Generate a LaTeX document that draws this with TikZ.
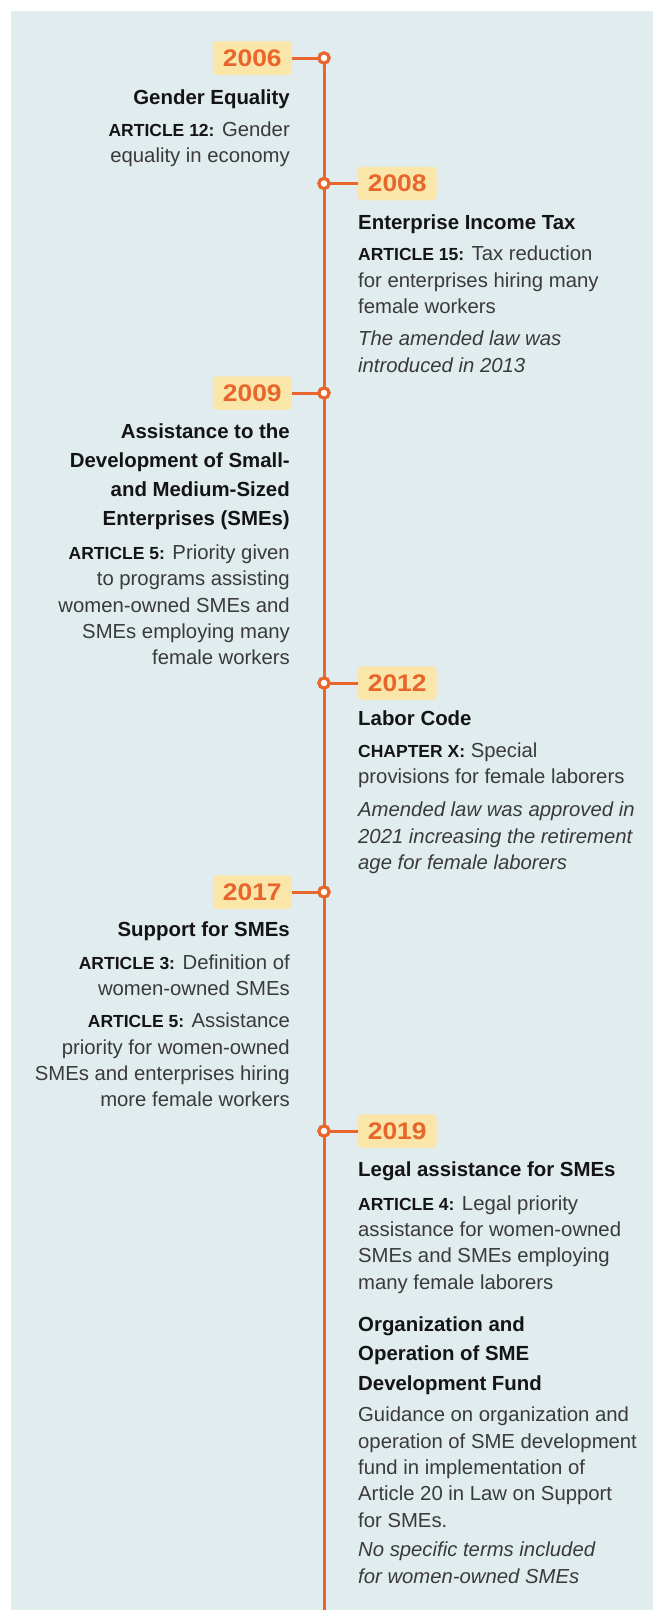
\documentclass[tikz,border=0pt]{standalone}
\usepackage{fontspec}
\setmainfont{Liberation Sans}
\definecolor{panel}{HTML}{E1ECEE}
\definecolor{tl}{HTML}{E8652B}
\definecolor{yearbg}{HTML}{FAE6A8}
\definecolor{bodytxt}{HTML}{3A3A3A}
\definecolor{titletxt}{HTML}{141414}
\newcommand\lbl[1]{{\fontsize{17.5}{26.4}\selectfont\bfseries\color{titletxt}#1}}
\newcommand\lpar[1]{\parbox[t]{280pt}{\raggedleft\leavevmode #1}}
\newcommand\rpar[1]{\parbox[t]{290pt}{\raggedright\leavevmode #1}}
\newcommand\yr[1]{\scalebox{1.1}[1]{#1}}
\tikzset{
  yearbox/.style={fill=yearbg, rounded corners=4pt, minimum width=79pt, minimum height=33.5pt, inner sep=0pt, text=tl, font=\bfseries\fontsize{24}{24}\selectfont},
  dot/.style={circle, draw=tl, fill=white, line width=3.2pt, minimum size=10.3pt, inner sep=0pt},
  link/.style={draw=tl, line width=3pt},
  ttl/.style={inner sep=0pt, text=titletxt, font=\bfseries\fontsize{20.4}{29.2}\selectfont},
  bod/.style={inner sep=0pt, text=bodytxt, font=\fontsize{20.3}{26.4}\selectfont},
}
\begin{document}
\begin{tikzpicture}[x=1pt,y=-1pt]
\useasboundingbox (0,0) rectangle (653,1610);
\fill[white] (0,0) rectangle (653,1610);
\fill[panel] (11,11) rectangle (653,1610);
\coordinate (bottom) at (324,1610);

% dot positions
\coordinate (p2006) at (324,58);
\coordinate (p2008) at (324,183.5);
\coordinate (p2009) at (324,393);
\coordinate (p2012) at (324,683);
\coordinate (p2017) at (324,892);
\coordinate (p2019) at (324,1131);

% year boxes
\node[yearbox, anchor=east] (y2006) at (292,58) {\yr{2006}};
\node[yearbox, anchor=west] (y2008) at (357.5,183.5) {\yr{2008}};
\node[yearbox, anchor=east] (y2009) at (292,393) {\yr{2009}};
\node[yearbox, anchor=west] (y2012) at (357.5,683) {\yr{2012}};
\node[yearbox, anchor=east] (y2017) at (292,892) {\yr{2017}};
\node[yearbox, anchor=west] (y2019) at (357.5,1131) {\yr{2019}};

% timeline and connectors
\draw[link] (p2006) -- (bottom);
\foreach \y in {2006,2008,2009,2012,2017,2019} {
  \draw[link] (y\y) -- (p\y);
}
% dots
\foreach \y in {2006,2008,2009,2012,2017,2019} {
  \node[dot] (c\y) at (p\y) {};
}

% 2006
\node[ttl, anchor=base east] (t2006) at (290,104) {\lpar{Gender Equality}};
\node[bod, anchor=base east] (b2006) at (290,136) {\lpar{\lbl{ARTICLE 12:} Gender\\equality in economy}};

% 2008
\node[ttl, anchor=base west] (t2008) at (358,229) {\rpar{Enterprise Income Tax}};
\node[bod, anchor=base west] (b2008) at (358,260.7) {\rpar{\lbl{ARTICLE 15:} Tax reduction\\for enterprises hiring many\\female workers}};
\node[bod, anchor=base west] (n2008) at (358,345.7) {\rpar{\itshape The amended law was\\introduced in 2013}};

% 2009
\node[ttl, anchor=base east] (t2009) at (290,438.3) {\lpar{Assistance to the\\Development of Small-\\and Medium-Sized\\Enterprises (SMEs)}};
\node[bod, anchor=base east] (b2009) at (290,559.3) {\lpar{\lbl{ARTICLE 5:} Priority given\\to programs assisting\\women-owned SMEs and\\SMEs employing many\\female workers}};

% 2012
\node[ttl, anchor=base west] (t2012) at (358,725) {\rpar{Labor Code}};
\node[bod, anchor=base west] (b2012) at (358,757.3) {\rpar{\lbl{CHAPTER X:} Special\\provisions for female laborers}};
\node[bod, anchor=base west] (n2012) at (358,816.7) {\rpar{\itshape Amended law was approved in\\2021 increasing the retirement\\age for female laborers}};

% 2017
\node[ttl, anchor=base east] (t2017) at (290,936.7) {\lpar{Support for SMEs}};
\node[bod, anchor=base east] (b2017a) at (290,969) {\lpar{\lbl{ARTICLE 3:} Definition of\\women-owned SMEs}};
\node[bod, anchor=base east] (b2017b) at (290,1027.7) {\lpar{\lbl{ARTICLE 5:} Assistance\\priority for women-owned\\SMEs and enterprises hiring\\more female workers}};

% 2019
\node[ttl, anchor=base west] (t2019) at (358,1176) {\rpar{Legal assistance for SMEs}};
\node[bod, anchor=base west] (b2019) at (358,1210) {\rpar{\lbl{ARTICLE 4:} Legal priority\\assistance for women-owned\\SMEs and SMEs employing\\many female laborers}};

\node[ttl, anchor=base west] (t2019b) at (358,1331.7) {\rpar{Organization and\\Operation of SME\\Development Fund}};
\node[bod, anchor=base west] (b2019b) at (358,1421.7) {\rpar{Guidance on organization and\\operation of SME development\\fund in implementation of\\Article 20 in Law on Support\\for SMEs.}};
\node[bod, anchor=base west] (n2019b) at (358,1556.7) {\rpar{\itshape No specific terms included\\for women-owned SMEs}};
\end{tikzpicture}
\end{document}
